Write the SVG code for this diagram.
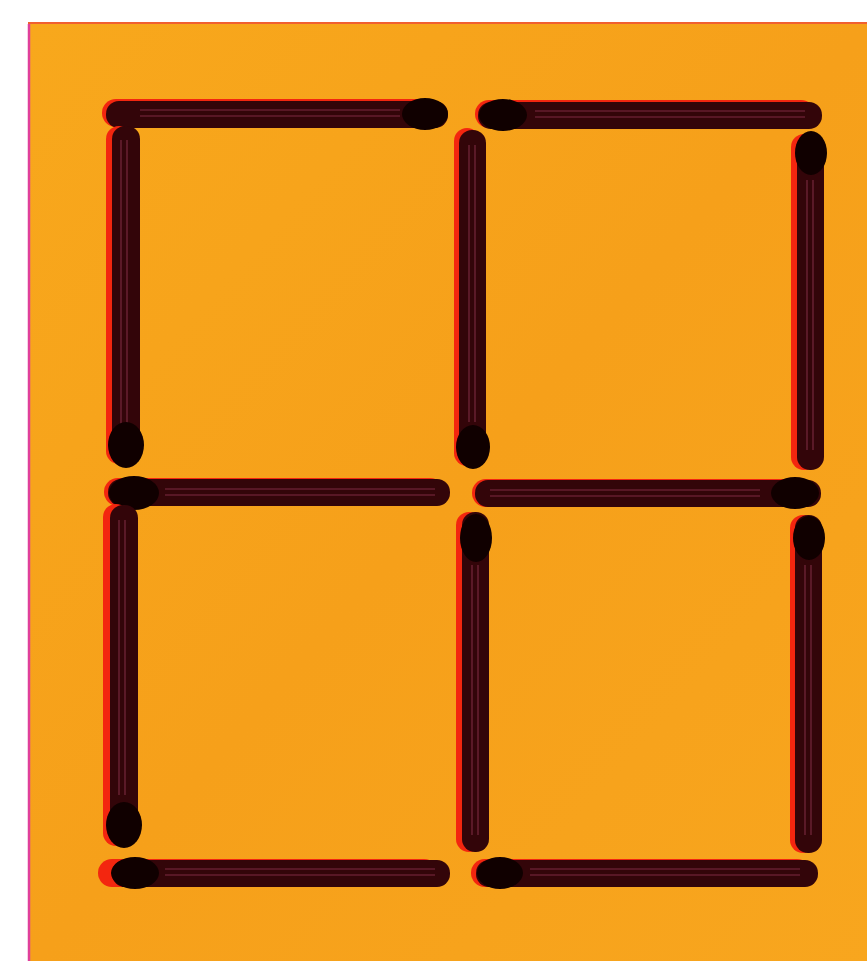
<svg xmlns="http://www.w3.org/2000/svg" width="867" height="961" viewBox="0 0 867 961">
<defs>
<style>
.sh{fill:#f3260f}
.bd{fill:#330509}
.st{fill:none;stroke:#7a2a40;stroke-width:1.6;opacity:0.7}
.hd{fill:#100000}
</style>
<linearGradient id="bg" x1="0" y1="0" x2="1" y2="1">
<stop offset="0" stop-color="#f8a81c"/>
<stop offset="0.5" stop-color="#f6a01a"/>
<stop offset="1" stop-color="#f8a61e"/>
</linearGradient>
</defs>
<rect x="0" y="0" width="867" height="961" fill="#ffffff"/>
<rect x="28" y="22" width="845" height="945" fill="url(#bg)"/>
<line x1="29" y1="24" x2="29" y2="961" stroke="#e0409a" stroke-width="2.5"/>
<line x1="28" y1="23" x2="867" y2="23" stroke="#f06030" stroke-width="2"/>

<!-- top row -->
<g id="h-top-left">
<rect class="sh" x="102" y="99" width="340" height="28" rx="14"/>
<rect class="bd" x="106" y="101" width="342" height="27" rx="13"/>
<path class="st" d="M140 110H400M140 116H400"/>
<ellipse class="hd" cx="425" cy="114" rx="23" ry="16"/>
</g>
<g id="h-top-right">
<rect class="sh" x="475" y="100" width="340" height="28" rx="14"/>
<rect class="bd" x="478" y="102" width="344" height="27" rx="13"/>
<path class="st" d="M535 111H805M535 117H805"/>
<ellipse class="hd" cx="503" cy="115" rx="24" ry="16"/>
</g>

<g id="v-top-left">
<rect class="sh" x="106" y="126" width="26" height="338" rx="13"/>
<rect class="bd" x="112" y="126" width="28" height="338" rx="13"/>
<path class="st" d="M121 140V425M127 140V425"/>
<ellipse class="hd" cx="126" cy="445" rx="18" ry="23"/>
</g>
<g id="v-top-mid">
<rect class="sh" x="454" y="128" width="26" height="338" rx="13"/>
<rect class="bd" x="459" y="130" width="27" height="336" rx="13"/>
<path class="st" d="M469 145V422M475 145V422"/>
<ellipse class="hd" cx="473" cy="447" rx="17" ry="22"/>
</g>
<g id="v-top-right">
<rect class="sh" x="791" y="134" width="26" height="336" rx="13"/>
<rect class="bd" x="797" y="134" width="27" height="336" rx="13"/>
<path class="st" d="M807 180V450M813 180V450"/>
<ellipse class="hd" cx="811" cy="153" rx="16" ry="22"/>
</g>

<!-- middle row -->
<g id="h-mid-left">
<rect class="sh" x="104" y="478" width="340" height="28" rx="14"/>
<rect class="bd" x="108" y="479" width="342" height="27" rx="13"/>
<path class="st" d="M165 489H435M165 495H435"/>
<ellipse class="hd" cx="134" cy="493" rx="25" ry="17"/>
</g>
<g id="h-mid-right">
<rect class="sh" x="472" y="479" width="340" height="28" rx="14"/>
<rect class="bd" x="475" y="480" width="346" height="27" rx="13"/>
<path class="st" d="M490 490H760M490 496H760"/>
<ellipse class="hd" cx="795" cy="493" rx="24" ry="16"/>
</g>

<g id="v-bot-left">
<rect class="sh" x="103" y="504" width="26" height="342" rx="13"/>
<rect class="bd" x="110" y="505" width="28" height="340" rx="13"/>
<path class="st" d="M119 520V795M125 520V795"/>
<ellipse class="hd" cx="124" cy="825" rx="18" ry="23"/>
</g>
<g id="v-bot-mid">
<rect class="sh" x="456" y="512" width="26" height="340" rx="13"/>
<rect class="bd" x="462" y="512" width="27" height="340" rx="13"/>
<path class="st" d="M472 565V835M478 565V835"/>
<ellipse class="hd" cx="476" cy="538" rx="16" ry="24"/>
</g>
<g id="v-bot-right">
<rect class="sh" x="790" y="515" width="26" height="338" rx="13"/>
<rect class="bd" x="795" y="515" width="27" height="338" rx="13"/>
<path class="st" d="M805 565V835M811 565V835"/>
<ellipse class="hd" cx="809" cy="538" rx="16" ry="22"/>
</g>

<!-- bottom row -->
<g id="h-bot-left">
<rect class="sh" x="98" y="859" width="340" height="28" rx="14"/>
<rect class="bd" x="112" y="860" width="338" height="27" rx="13"/>
<path class="st" d="M165 869H435M165 875H435"/>
<ellipse class="hd" cx="135" cy="873" rx="24" ry="16"/>
</g>
<g id="h-bot-right">
<rect class="sh" x="471" y="859" width="340" height="28" rx="14"/>
<rect class="bd" x="476" y="860" width="342" height="27" rx="13"/>
<path class="st" d="M530 869H800M530 875H800"/>
<ellipse class="hd" cx="500" cy="873" rx="23" ry="16"/>
</g>
</svg>
